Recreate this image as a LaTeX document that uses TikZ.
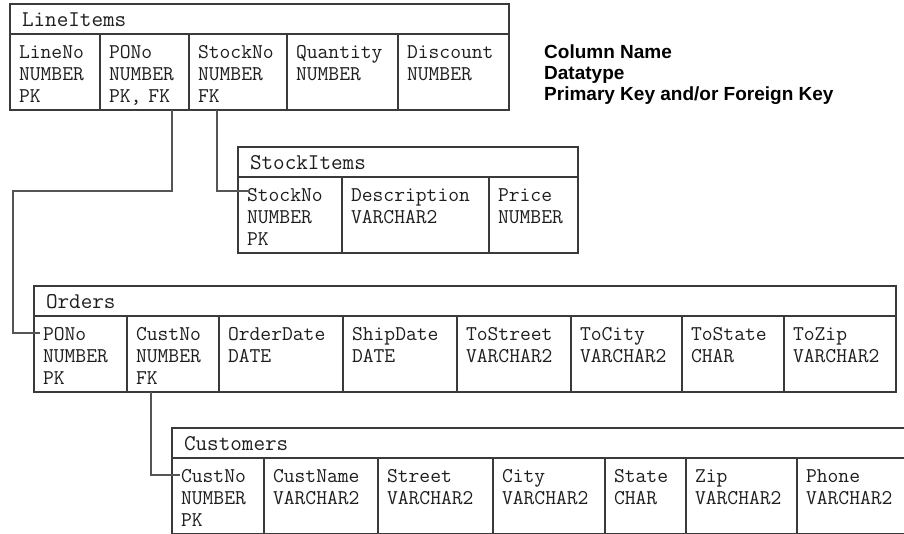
\documentclass[tikz,border=0pt]{standalone}
\usepackage{fontspec}
\usepackage{tikz}
\usetikzlibrary{positioning}
\newfontfamily\tabfont{Latin Modern Mono}
\newfontfamily\keyfont{Liberation Sans}
\definecolor{frame}{HTML}{3A3A3A}
\definecolor{ink}{HTML}{1E1E1E}
\definecolor{wire}{HTML}{555555}
\tikzset{
    every picture/.style={line join=miter},
    tabletitle/.style={draw=frame,line width=1.6pt,anchor=north west,outer sep=0pt,
      text width=#1-24pt,inner xsep=12pt,inner ysep=3.5pt,
      text height=19pt,text depth=4pt,align=left,text=ink,
      font=\tabfont\fontsize{22.5}{24}\selectfont},
    colcell/.style={draw=frame,line width=1.6pt,outer sep=0pt,
      text width=#1-18pt,inner xsep=9pt,inner ysep=2pt,
      text height=22pt,text depth=50pt,align=left,text=ink,
      font=\tabfont\fontsize{21}{22}\selectfont},
    legendtext/.style={anchor=base west,inner sep=0pt,text=black,
      font=\keyfont\bfseries\fontsize{19}{22}\selectfont},
    fkline/.style={draw=wire,line width=1.2pt}
}

\begin{document}
\begin{tikzpicture}[x=1pt,y=1pt]
  \useasboundingbox (0,0) rectangle (904,-533);
  \fill[white] (0,0) rectangle (904,-533);
  \clip (0,0) rectangle (904,-533);

  % LineItems
  \node[tabletitle=499pt] (li) at (10,-4) {LineItems};
  \node[colcell=90pt,anchor=north west] (li-lineno) at (li.south west) {LineNo\\NUMBER\\PK};
  \node[colcell=89pt,right=0pt of li-lineno] (li-pono) {PONo\\NUMBER\\PK, FK};
  \node[colcell=98pt,right=0pt of li-pono] (li-stockno) {StockNo\\NUMBER\\FK};
  \node[colcell=111pt,right=0pt of li-stockno] (li-qty) {Quantity\\NUMBER};
  \node[colcell=111pt,right=0pt of li-qty] (li-disc) {Discount\\NUMBER};

  \node[legendtext] (lgname) at (544,-58) {Column Name};
  \node[legendtext] (lgtype) at (544,-79) {Datatype};
  \node[legendtext] (lgkey) at (544,-100) {Primary Key and/or Foreign Key};

  % StockItems
  \node[tabletitle=340pt] (si) at (238,-147) {StockItems};
  \node[colcell=104pt,anchor=north west] (si-stockno) at (si.south west) {StockNo\\NUMBER\\PK};
  \node[colcell=147pt,right=0pt of si-stockno] (si-desc) {Description\\VARCHAR2};
  \node[colcell=89pt,right=0pt of si-desc] (si-price) {Price\\NUMBER};

  % Orders
  \node[tabletitle=862pt] (ord) at (34,-286) {Orders};
  \node[colcell=93pt,anchor=north west] (ord-pono) at (ord.south west) {PONo\\NUMBER\\PK};
  \node[colcell=92pt,right=0pt of ord-pono] (ord-custno) {CustNo\\NUMBER\\FK};
  \node[colcell=124pt,right=0pt of ord-custno] (ord-orderdate) {OrderDate\\DATE};
  \node[colcell=114pt,right=0pt of ord-orderdate] (ord-shipdate) {ShipDate\\DATE};
  \node[colcell=114pt,right=0pt of ord-shipdate] (ord-street) {ToStreet\\VARCHAR2};
  \node[colcell=111pt,right=0pt of ord-street] (ord-city) {ToCity\\VARCHAR2};
  \node[colcell=102pt,right=0pt of ord-city] (ord-state) {ToState\\CHAR};
  \node[colcell=112pt,right=0pt of ord-state] (ord-zip) {ToZip\\VARCHAR2};

  % Customers
  \node[tabletitle=745pt] (cust) at (172,-428) {Customers};
  \node[colcell=92pt,anchor=north west] (cust-custno) at (cust.south west) {CustNo\\NUMBER\\PK};
  \node[colcell=114pt,right=0pt of cust-custno] (cust-name) {CustName\\VARCHAR2};
  \node[colcell=115pt,right=0pt of cust-name] (cust-street) {Street\\VARCHAR2};
  \node[colcell=112pt,right=0pt of cust-street] (cust-city) {City\\VARCHAR2};
  \node[colcell=81pt,right=0pt of cust-city] (cust-state) {State\\CHAR};
  \node[colcell=111pt,right=0pt of cust-state] (cust-zip) {Zip\\VARCHAR2};
  \node[colcell=120pt,right=0pt of cust-zip] (cust-phone) {Phone\\VARCHAR2};

  % foreign keys
  \draw[fkline] ([xshift=27.5pt]li-pono.south) -- ++(0,-81)
    -| ([xshift=-21pt,yshift=-17pt]ord-pono.north west)
    -- ([xshift=6pt,yshift=-17pt]ord-pono.north west);
  \draw[fkline] ([xshift=-21pt]li-stockno.south)
    |- ([xshift=12pt,yshift=-14pt]si-stockno.north west);
  \draw[fkline] ([xshift=-22pt]ord-custno.south)
    |- ([xshift=8pt,yshift=-17pt]cust-custno.north west);
\end{tikzpicture}
\end{document}
